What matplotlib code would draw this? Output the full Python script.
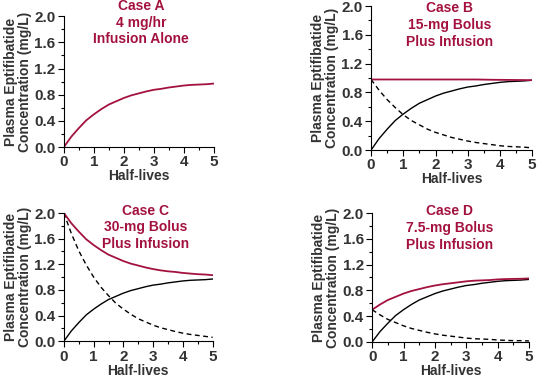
import numpy as np
import matplotlib
matplotlib.use('Agg')
import matplotlib.pyplot as plt
from matplotlib.ticker import MultipleLocator

plt.rcParams['font.family'] = ['Liberation Sans', 'DejaVu Sans']
plt.rcParams['font.weight'] = 'bold'

# time in half-lives
t = [0, 0.25, 0.5, 0.75, 1, 1.25, 1.5, 1.75, 2, 2.25, 2.5, 2.75, 3,
     3.25, 3.5, 3.75, 4, 4.25, 4.5, 4.75, 5]

# infusion contribution (same in every case)
infusion = [0, 0.16, 0.29, 0.41, 0.50, 0.58, 0.65, 0.70, 0.75, 0.79, 0.82,
            0.85, 0.875, 0.89, 0.91, 0.925, 0.94, 0.95, 0.955, 0.96, 0.97]

# bolus contributions
bolus_b = [0.98, 0.83, 0.70, 0.59, 0.49, 0.41, 0.35, 0.29, 0.245, 0.21, 0.175,
           0.15, 0.125, 0.105, 0.09, 0.075, 0.06, 0.05, 0.045, 0.04, 0.03]
bolus_c = [2.0, 1.68, 1.41, 1.19, 1.0, 0.84, 0.71, 0.59, 0.50, 0.42, 0.35,
           0.30, 0.25, 0.21, 0.18, 0.15, 0.125, 0.105, 0.09, 0.075, 0.06]
bolus_d = [0.5, 0.42, 0.35, 0.30, 0.25, 0.21, 0.18, 0.15, 0.125, 0.105, 0.09,
           0.075, 0.06, 0.05, 0.045, 0.04, 0.03, 0.025, 0.02, 0.02, 0.015]

# total plasma concentration
total_a = infusion
total_b = [0.98, 0.98, 0.98, 0.98, 0.98, 0.98, 0.98, 0.98, 0.98, 0.98, 0.98,
           0.98, 0.98, 0.98, 0.978, 0.976, 0.975, 0.974, 0.973, 0.972, 0.97]
total_c = [2.0, 1.84, 1.71, 1.59, 1.50, 1.42, 1.35, 1.30, 1.25, 1.21, 1.18,
           1.15, 1.125, 1.105, 1.09, 1.08, 1.065, 1.055, 1.045, 1.04, 1.03]
total_d = [0.5, 0.58, 0.65, 0.70, 0.75, 0.79, 0.82, 0.85, 0.875, 0.895, 0.91,
           0.925, 0.94, 0.95, 0.955, 0.96, 0.97, 0.975, 0.978, 0.98, 0.985]

titles = ['Case A\n4 mg/hr\nInfusion Alone',
          'Case B\n15-mg Bolus\nPlus Infusion',
          'Case C\n30-mg Bolus\nPlus Infusion',
          'Case D\n7.5-mg Bolus\nPlus Infusion']

red = '#a3123f'
grey = '#333333'

W, H = 537, 377
fig = plt.figure(figsize=(W / 100, H / 100), dpi=100)
axA = fig.add_axes([0.119, 0.610, 0.279, 0.347])
axB = fig.add_axes([0.691, 0.602, 0.300, 0.382])
axC = fig.add_axes([0.119, 0.095, 0.277, 0.340])
axD = fig.add_axes([0.693, 0.093, 0.292, 0.342])

# title block centres (pixels from top-left)
title_pos = [(141, 22.5), (450, 25), (146, 227.5), (450, 228)]

panels = [
    (axA, None, None, total_a),
    (axB, infusion, bolus_b, total_b),
    (axC, infusion, bolus_c, total_c),
    (axD, infusion, bolus_d, total_d),
]

for (ax, inf, bol, tot), title, (px, py) in zip(panels, titles, title_pos):
    if inf is not None:
        ax.plot(t, inf, color='black', lw=1.0)
        ax.plot(t, bol, color='black', lw=1.0, dashes=(3.5, 2.5))
    ax.plot(t, tot, color=red, lw=1.3)

    ax.set_xlim(0, 5)
    ax.set_ylim(0, 2.0)
    ax.xaxis.set_major_locator(MultipleLocator(1))
    ax.xaxis.set_minor_locator(MultipleLocator(0.5))
    ax.yaxis.set_major_locator(MultipleLocator(0.4))
    ax.yaxis.set_minor_locator(MultipleLocator(0.2))
    ax.set_yticklabels(['%.1f' % v for v in ax.get_yticks()])
    ax.spines['top'].set_visible(False)
    ax.spines['right'].set_visible(False)
    ax.tick_params(which='major', length=4, width=0.8, labelsize=11,
                   labelcolor=grey, pad=2)
    ax.tick_params(which='minor', length=2.5, width=0.8)
    for lab in ax.get_xticklabels() + ax.get_yticklabels():
        lab.set_fontweight('bold')

    ax.set_xlabel('Half-lives', fontsize=10, color=grey, fontweight='bold',
                  labelpad=0)
    ax.set_ylabel('Plasma Eptifibatide\nConcentration (mg/L)', fontsize=10,
                  color=grey, fontweight='bold', labelpad=2, linespacing=1.0)
    fig.text(px / W, 1 - py / H, title, ha='center', va='center',
             color=red, fontsize=10, fontweight='bold', linespacing=1.25)

plt.savefig('out.png', dpi=100)
